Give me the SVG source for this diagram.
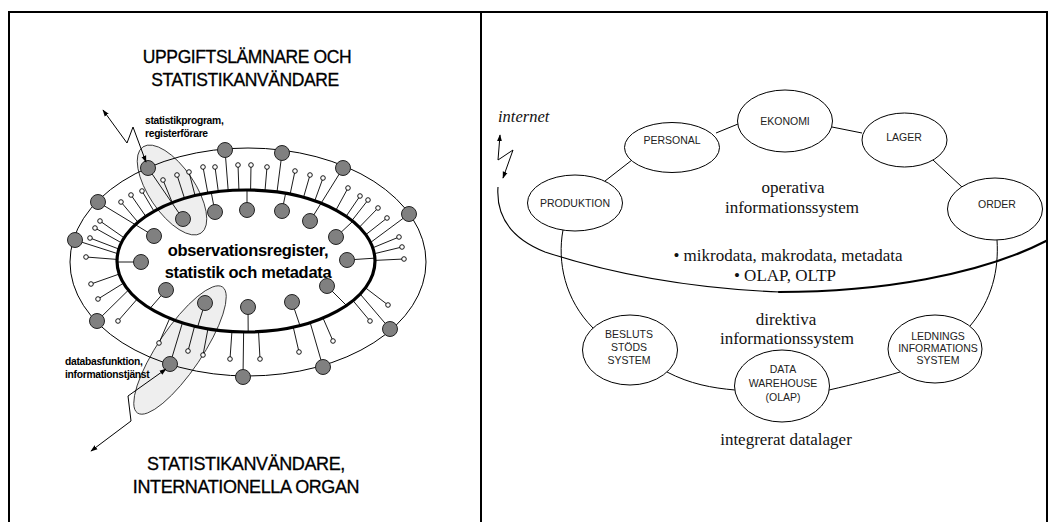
<svg xmlns="http://www.w3.org/2000/svg" width="1052" height="522" viewBox="0 0 1052 522">
  <style>
    .frame { fill: none; stroke: #000; stroke-width: 2; }
    .thin { fill: none; stroke: #000; stroke-width: 1; }
    .spoke { fill: none; stroke: #000; stroke-width: 0.9; }
    .core { fill: none; stroke: #000; stroke-width: 3.2; }
    .shade { fill: #eeeeee; stroke: #222; stroke-width: 0.8; }
    .hub { fill: #808080; stroke: #222; stroke-width: 1; }
    .pin { fill: #fff; stroke: #000; stroke-width: 0.9; }
    .head { font-family: "Liberation Sans", Arial, sans-serif; font-size: 17.5px; letter-spacing: -0.4px; fill: #000; stroke: #000; stroke-width: 0.3px; text-anchor: middle; }
    .center { font-family: "Liberation Sans", Arial, sans-serif; font-size: 16.5px; font-weight: bold; letter-spacing: -0.3px; fill: #000; text-anchor: middle; }
    .small { font-family: "Liberation Sans", Arial, sans-serif; font-size: 10.3px; font-weight: bold; letter-spacing: -0.3px; fill: #000; }
    .node ellipse { fill: #fff; stroke: #000; stroke-width: 1; }
    .node text { font-family: "Liberation Sans", Arial, sans-serif; font-size: 10.5px; fill: #222; text-anchor: middle; }
    .serif { font-family: "Liberation Serif", "Times New Roman", serif; font-size: 17px; fill: #111; text-anchor: middle; }
    .arrow { fill: none; stroke: #000; stroke-width: 1; marker-start: url(#ah); marker-end: url(#ah); }
    .link { fill: none; stroke: #000; stroke-width: 1; }
  </style>
  <defs>
    <marker id="ah" viewBox="0 0 10 10" refX="9" refY="5" markerWidth="7" markerHeight="7" markerUnits="userSpaceOnUse" orient="auto-start-reverse">
      <path d="M0,1.5 L10,5 L0,8.5 Z" fill="#000"/>
    </marker>
    <!-- ring between the outer and inner ellipse -->
    <clipPath id="band">
      <path clip-rule="evenodd" d="M0,0H481V522H0Z M117,261 A129,71 0 1 0 375,261 A129,71 0 1 0 117,261 Z"/>
    </clipPath>
    <!-- inside of the central ellipse -->
    <clipPath id="inside">
      <ellipse cx="246" cy="261" rx="129" ry="71"/>
    </clipPath>
  </defs>

  <rect width="1052" height="522" fill="#fff"/>

  <!-- frame -->
  <path class="frame" d="M9,522V12H1047V522 M481,12V522"/>

  <!-- ===== left panel ===== -->
  <g id="left-panel">
    <text class="head" x="247" y="63">UPPGIFTSLÄMNARE OCH</text>
    <text class="head" x="245" y="86">STATISTIKANVÄNDARE</text>

    <!-- highlighted zones -->
    <ellipse class="shade" cx="172" cy="190" rx="52" ry="23" transform="rotate(56 172 190)"/>
    <ellipse class="shade" cx="180" cy="350" rx="76" ry="22" transform="rotate(-56 180 350)"/>

    <!-- outer ring -->
    <ellipse class="thin" cx="248" cy="262" rx="178" ry="114"/>

    <!-- sticks from the ring down to the central ellipse -->
    <path class="spoke" clip-path="url(#band)" d="
      M163,180L196.6,262 M177,175L205,262 M189,172L212.2,262 M203,167L220.6,262 M215,167L227.8,262
      M238,165L241.6,262 M251,165L249.4,262 M142,191L184,262 M131,195L177.4,262 M121,202L171.4,262
      M100,221L158.8,262 M95,228L155.8,262 M90,238L152.8,262 M86,257L150.4,262 M91,284L153.4,262
      M98,299L157.6,262 M118,321L169.6,262 M159,343L194.2,262 M188,351L211.6,262 M203,355L220.6,262
      M230,359L236.8,262 M260,359L254.8,262 M299,352L278.2,262 M333,341L298.6,262 M370,321L320.8,262
      M388,305L331.6,262 M267,167L259,262 M295,171L275.8,262 M310,175L284.8,262 M323,178L292.6,262
      M348,188L307.6,262 M360,196L314.8,262 M368,200L319.6,262 M378,208L325.6,262 M387,218L331,262
      M399,237L338.2,262 M402,247L340,262 M404,259L341.2,262
      M225,150L233.8,262 M282,153L268,262 M409,214L344.2,262 M390,329L332.8,262 M323,367L292.6,262
      M243,377L244.6,262 M170,364L200.8,262 M97,321L157,262 M75,240L143.8,262"/>

    <!-- sticks from the inner hubs out to the central ellipse -->
    <path class="spoke" clip-path="url(#inside)" d="
      M215,212L186,62 M247,210L247,54 M282,211L313.5,58 M336,237L416,162 M347,260L437,254
      M327,286L399,358 M292,302L332.5,422 M248,307L249,442 M205,303L167,426 M166,290L93,374
      M141,262L45.6,262"/>

    <!-- hubs wired straight through the central ellipse -->
    <path class="spoke" d="M148,168L183,219 M98,202L154,236 M343,168L310,221"/>

    <!-- central ellipse -->
    <ellipse class="core" cx="246" cy="261" rx="129" ry="71"/>

    <!-- small terminals -->
    <g id="terminals">
      <circle class="pin" cx="163" cy="180" r="2.3"/><circle class="pin" cx="177" cy="175" r="2.3"/>
      <circle class="pin" cx="189" cy="172" r="2.3"/><circle class="pin" cx="203" cy="167" r="2.3"/>
      <circle class="pin" cx="215" cy="167" r="2.3"/><circle class="pin" cx="238" cy="165" r="2.3"/>
      <circle class="pin" cx="251" cy="165" r="2.3"/><circle class="pin" cx="142" cy="191" r="2.3"/>
      <circle class="pin" cx="131" cy="195" r="2.3"/><circle class="pin" cx="121" cy="202" r="2.3"/>
      <circle class="pin" cx="100" cy="221" r="2.3"/><circle class="pin" cx="95" cy="228" r="2.3"/>
      <circle class="pin" cx="90" cy="238" r="2.3"/><circle class="pin" cx="86" cy="257" r="2.3"/>
      <circle class="pin" cx="91" cy="284" r="2.3"/><circle class="pin" cx="98" cy="299" r="2.3"/>
      <circle class="pin" cx="118" cy="321" r="2.3"/><circle class="pin" cx="159" cy="343" r="2.3"/>
      <circle class="pin" cx="188" cy="351" r="2.3"/><circle class="pin" cx="203" cy="355" r="2.3"/>
      <circle class="pin" cx="230" cy="359" r="2.3"/><circle class="pin" cx="260" cy="359" r="2.3"/>
      <circle class="pin" cx="299" cy="352" r="2.3"/><circle class="pin" cx="333" cy="341" r="2.3"/>
      <circle class="pin" cx="370" cy="321" r="2.3"/><circle class="pin" cx="388" cy="305" r="2.3"/>
      <circle class="pin" cx="267" cy="167" r="2.3"/><circle class="pin" cx="295" cy="171" r="2.3"/>
      <circle class="pin" cx="310" cy="175" r="2.3"/><circle class="pin" cx="323" cy="178" r="2.3"/>
      <circle class="pin" cx="348" cy="188" r="2.3"/><circle class="pin" cx="360" cy="196" r="2.3"/>
      <circle class="pin" cx="368" cy="200" r="2.3"/><circle class="pin" cx="378" cy="208" r="2.3"/>
      <circle class="pin" cx="387" cy="218" r="2.3"/><circle class="pin" cx="399" cy="237" r="2.3"/>
      <circle class="pin" cx="402" cy="247" r="2.3"/><circle class="pin" cx="404" cy="259" r="2.3"/>
    </g>

    <!-- hubs on the outer ring -->
    <g id="outer-hubs">
      <circle class="hub" cx="148" cy="168" r="7.5"/><circle class="hub" cx="225" cy="150" r="7.5"/>
      <circle class="hub" cx="282" cy="153" r="7.5"/><circle class="hub" cx="343" cy="168" r="7.5"/>
      <circle class="hub" cx="409" cy="214" r="7.5"/><circle class="hub" cx="390" cy="329" r="7.5"/>
      <circle class="hub" cx="323" cy="367" r="7.5"/><circle class="hub" cx="243" cy="377" r="7.5"/>
      <circle class="hub" cx="170" cy="364" r="7.5"/><circle class="hub" cx="97" cy="321" r="7.5"/>
      <circle class="hub" cx="75" cy="240" r="7.5"/><circle class="hub" cx="98" cy="202" r="7.5"/>
    </g>

    <!-- hubs inside the central ellipse -->
    <g id="inner-hubs">
      <circle class="hub" cx="183" cy="219" r="7.5"/><circle class="hub" cx="215" cy="212" r="7.5"/>
      <circle class="hub" cx="247" cy="210" r="7.5"/><circle class="hub" cx="282" cy="211" r="7.5"/>
      <circle class="hub" cx="310" cy="221" r="7.5"/><circle class="hub" cx="336" cy="237" r="7.5"/>
      <circle class="hub" cx="347" cy="260" r="7.5"/><circle class="hub" cx="327" cy="286" r="7.5"/>
      <circle class="hub" cx="292" cy="302" r="7.5"/><circle class="hub" cx="248" cy="307" r="7.5"/>
      <circle class="hub" cx="205" cy="303" r="7.5"/><circle class="hub" cx="166" cy="290" r="7.5"/>
      <circle class="hub" cx="141" cy="262" r="7.5"/><circle class="hub" cx="154" cy="236" r="7.5"/>
    </g>

    <text class="center" x="248" y="256">observationsregister,</text>
    <text class="center" x="248" y="278">statistik och metadata</text>

    <text class="small" x="145" y="124">statistikprogram,</text>
    <text class="small" x="145" y="137">registerförare</text>
    <path class="arrow" d="M103,110 L127,143 L133,127 L146,162"/>

    <text class="small" x="65" y="365">databasfunktion,</text>
    <text class="small" x="65" y="378">informationstjänst</text>
    <path class="arrow" d="M91,451 L131,421 L128,396 L166,369"/>

    <text class="head" x="246" y="470" style="font-size:18px">STATISTIKANVÄNDARE,</text>
    <text class="head" x="246" y="493" style="font-size:18px">INTERNATIONELLA ORGAN</text>
  </g>

  <!-- ===== right panel ===== -->
  <text x="498" y="122" style="font-family:'Liberation Serif','Times New Roman',serif;font-size:16.5px;font-style:italic;fill:#111">internet</text>
  <path class="arrow" d="M500,135 L498,160 L513,150 L503,178"/>

  <g id="connectors">
    <!-- internet boundary -->
    <path fill="none" stroke="#000" stroke-width="1.1" d="M498,187 C496,215 510,238 545,252 C600,270 680,288 780,292"/>
    <path fill="none" stroke="#000" stroke-width="2.2" stroke-linecap="round" d="M779,292 C880,292 980,275 1046,241"/>
    <!-- ring of systems -->
    <path class="link" d="M605,181 L632,160"/>
    <path class="link" d="M716,133 L738,124"/>
    <path class="link" d="M832,127 L862,133"/>
    <path class="link" d="M933,160 L962,187"/>
    <path class="link" d="M997,240 C999,270 992,300 970,326"/>
    <path class="link" d="M900,372 C880,378 855,384 829,390"/>
    <path class="link" d="M735,390 C712,388 690,384 667,372"/>
    <path class="link" d="M593,328 C565,300 557,262 563,230"/>
  </g>

  <g id="node-produktion" class="node">
    <ellipse cx="575" cy="203" rx="47.5" ry="28"/>
    <text x="575" y="207">PRODUKTION</text>
  </g>
  <g id="node-personal" class="node">
    <ellipse cx="672" cy="147.5" rx="47.5" ry="25"/>
    <text x="672" y="144">PERSONAL</text>
  </g>
  <g id="node-ekonomi" class="node">
    <ellipse cx="785" cy="121" rx="47.5" ry="31"/>
    <text x="785" y="125">EKONOMI</text>
  </g>
  <g id="node-lager" class="node">
    <ellipse cx="904.5" cy="140" rx="42.5" ry="27"/>
    <text x="904" y="141">LAGER</text>
  </g>
  <g id="node-order" class="node">
    <ellipse cx="995" cy="209" rx="47.5" ry="31"/>
    <text x="997" y="208">ORDER</text>
  </g>
  <g id="node-beslut" class="node">
    <ellipse cx="630" cy="350" rx="47.5" ry="35"/>
    <text x="629" y="338">BESLUTS</text>
    <text x="629" y="351">STÖDS</text>
    <text x="629" y="364">SYSTEM</text>
  </g>
  <g id="node-warehouse" class="node">
    <ellipse cx="782" cy="386" rx="47.5" ry="36"/>
    <text x="783" y="373">DATA</text>
    <text x="783" y="387">WAREHOUSE</text>
    <text x="783" y="401">(OLAP)</text>
  </g>
  <g id="node-ledning" class="node">
    <ellipse cx="935" cy="349" rx="47" ry="34"/>
    <text x="938" y="340">LEDNINGS</text>
    <text x="938" y="352">INFORMATIONS</text>
    <text x="938" y="364">SYSTEM</text>
  </g>

  <g id="captions">
    <text class="serif" x="793" y="193">operativa</text>
    <text class="serif" x="792" y="213">informationssystem</text>
    <text class="serif" x="788" y="261">• mikrodata, makrodata, metadata</text>
    <text class="serif" x="785" y="281">• OLAP, OLTP</text>
    <text class="serif" x="786" y="325">direktiva</text>
    <text class="serif" x="787" y="344">informationssystem</text>
    <text class="serif" x="786" y="445">integrerat datalager</text>
  </g>
</svg>
